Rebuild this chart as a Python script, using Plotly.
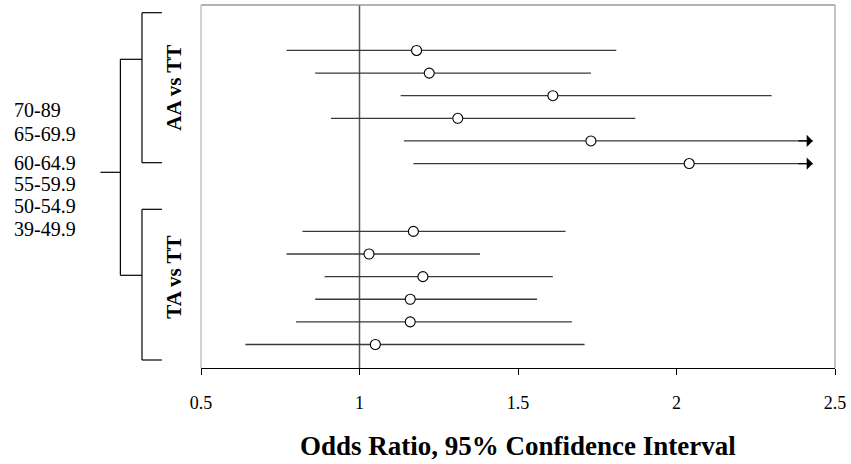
import plotly.graph_objects as go

# ---------------- data ----------------
age_groups = ["70-89", "65-69.9", "60-64.9", "55-59.9", "50-54.9", "39-49.9"]
comparisons = ["AA vs TT", "TA vs TT"]

aa_or = [1.18, 1.22, 1.61, 1.31, 1.73, 2.04]
aa_lo = [0.77, 0.86, 1.13, 0.91, 1.14, 1.17]
aa_hi = [1.81, 1.73, 2.30, 1.87, None, None]   # None = CI extends beyond axis (arrow)

ta_or = [1.17, 1.03, 1.20, 1.16, 1.16, 1.05]
ta_lo = [0.82, 0.77, 0.89, 0.86, 0.80, 0.64]
ta_hi = [1.65, 1.38, 1.61, 1.56, 1.67, 1.71]

x_ticks = [0.5, 1, 1.5, 2, 2.5]
x_tick_text = ["0.5", "1", "1.5", "2", "2.5"]
arrow_limit = 2.43
ref_value = 1

# ---------------- layout helpers ----------------
W, H = 851, 464
ML, MR, MT, MB = 201, 13, 5, 96
PW, PH = W - ML - MR, H - MT - MB


def px(x):
    return (x - ML) / PW


def py(y):
    return (H - MB - y) / PH


SERIF = "Liberation Serif, Times New Roman, serif"
LINE_COLOR = "#3a3a3a"

groups = [(aa_or, aa_lo, aa_hi), (ta_or, ta_lo, ta_hi)]
n_rows = len(age_groups)
gap = 2

fig = go.Figure()

line_x, line_y, pt_x, pt_y, arrows = [], [], [], [], []
for g, (orv, lo, hi) in enumerate(groups):
    for i in range(n_rows):
        pos = g * (n_rows + gap) + i
        upper = hi[i] if hi[i] is not None else arrow_limit
        line_x += [lo[i], upper, None]
        line_y += [pos, pos, None]
        pt_x.append(orv[i])
        pt_y.append(pos)
        if hi[i] is None:
            arrows.append(pos)

fig.add_trace(go.Scatter(x=line_x, y=line_y, mode="lines",
                         line=dict(color=LINE_COLOR, width=1.3),
                         hoverinfo="skip", showlegend=False))
fig.add_trace(go.Scatter(x=pt_x, y=pt_y, mode="markers",
                         marker=dict(symbol="circle", size=10, color="white",
                                     line=dict(color="black", width=1.1)),
                         showlegend=False))

annotations = []
for pos in arrows:
    annotations.append(dict(x=arrow_limit, y=pos, ax=arrow_limit - 0.05, ay=pos,
                            xref="x", yref="y", axref="x", ayref="y",
                            text="", showarrow=True, arrowhead=1,
                            arrowsize=1.7, arrowwidth=1.2, arrowcolor="black"))

# age labels
label_y = [110, 134, 162.5, 184, 206, 228.5]
for lab, yy in zip(age_groups, label_y):
    annotations.append(dict(x=px(12), y=py(yy), xref="paper", yref="paper",
                            text=lab, showarrow=False, xanchor="left", yanchor="middle",
                            borderpad=0,
                            font=dict(family=SERIF, size=20, color="black")))

# group labels (rotated)
for lab, yy in zip(comparisons, [87.5, 277.5]):
    annotations.append(dict(x=px(173), y=py(yy), xref="paper", yref="paper",
                            text="<b>" + lab + "</b>", showarrow=False, textangle=-90,
                            xanchor="center", yanchor="middle",
                            font=dict(family=SERIF, size=21, color="black")))

# axis title
annotations.append(dict(x=px(519), y=py(446), xref="paper", yref="paper",
                        text="<b>Odds Ratio, 95% Confidence Interval</b>",
                        showarrow=False, xanchor="center", yanchor="middle",
                        font=dict(family=SERIF, size=27, color="black")))

shapes = []


def seg(x0, y0, x1, y1, color="black", width=1.2):
    shapes.append(dict(type="line", xref="paper", yref="paper",
                       x0=px(x0), y0=py(y0), x1=px(x1), y1=py(y1),
                       line=dict(color=color, width=width)))


# brackets
seg(141.7, 12.7, 141.7, 162.7)
seg(141.7, 12.7, 161.7, 12.7)
seg(141.7, 162.7, 161.7, 162.7)
seg(141.7, 209.3, 141.7, 360)
seg(141.7, 209.3, 161.7, 209.3)
seg(141.7, 360, 161.7, 360)
seg(120, 59.3, 120, 275.3)
seg(120, 59.3, 141.7, 59.3)
seg(120, 275.3, 141.7, 275.3)
seg(100, 172.3, 120, 172.3)

# plot frame (top/left/right)
shapes.append(dict(type="line", xref="paper", yref="paper", x0=0, x1=1, y0=1, y1=1,
                   line=dict(color="#9a9a9a", width=1.5)))
shapes.append(dict(type="line", xref="paper", yref="paper", x0=0, x1=0, y0=0, y1=1,
                   line=dict(color="#c4c4c4", width=1.5)))
shapes.append(dict(type="line", xref="paper", yref="paper", x0=1, x1=1, y0=0, y1=1,
                   line=dict(color="#b0b0b0", width=1.5)))
# reference line at OR = 1
shapes.append(dict(type="line", xref="x", yref="paper", x0=ref_value, x1=ref_value,
                   y0=0, y1=1, line=dict(color="#555555", width=1.5), layer="below"))

fig.update_layout(
    width=W, height=H,
    margin=dict(l=ML, r=MR, t=MT, b=MB),
    paper_bgcolor="white", plot_bgcolor="white",
    showlegend=False,
    annotations=annotations,
    shapes=shapes,
    xaxis=dict(range=[0.5, 2.5], tickvals=x_ticks, ticktext=x_tick_text,
               showgrid=False, zeroline=False, showline=True, linecolor="black",
               linewidth=1.2, ticks="outside", ticklen=6, tickcolor="black",
               tickwidth=1.2, ticklabelstandoff=12,
               tickfont=dict(family=SERIF, size=18, color="black")),
    yaxis=dict(range=[14.04, -2.01], showgrid=False, zeroline=False,
               showline=False, showticklabels=False, ticks=""),
)

fig.write_html("out.html", config={"displayModeBar": False},
               post_script="document.body.style.margin='0';document.body.style.overflow='hidden';")
